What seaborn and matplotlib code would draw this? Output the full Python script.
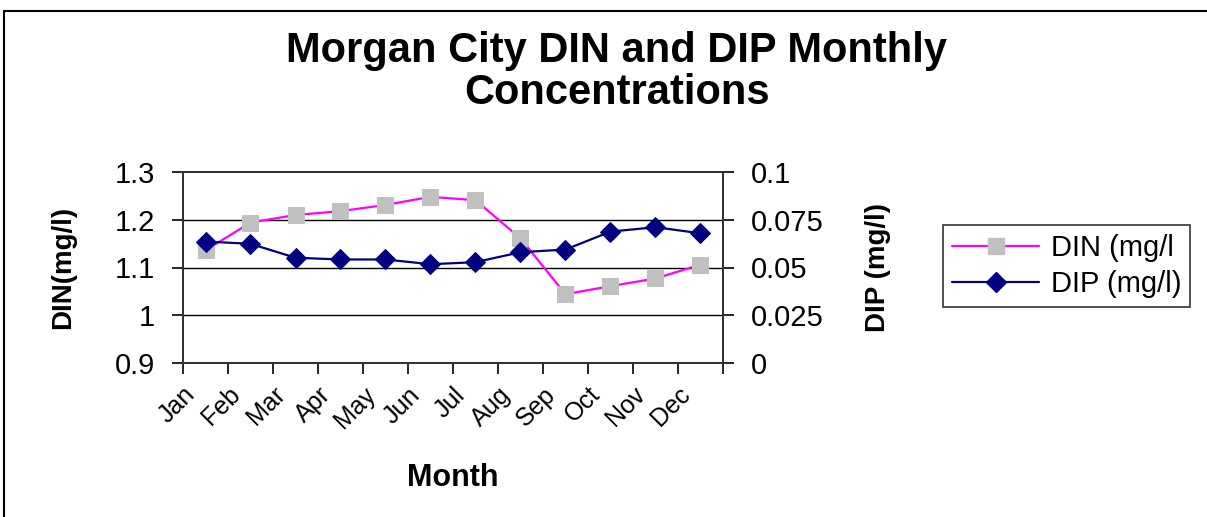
import matplotlib
matplotlib.use("Agg")
import matplotlib.pyplot as plt
import seaborn as sns
from matplotlib.lines import Line2D

# data
months = ['Jan', 'Feb', 'Mar', 'Apr', 'May', 'Jun',
          'Jul', 'Aug', 'Sep', 'Oct', 'Nov', 'Dec']
din = [1.136, 1.194, 1.210, 1.218, 1.231, 1.248,
       1.241, 1.161, 1.044, 1.061, 1.077, 1.106]
dip = [0.0636, 0.0624, 0.0551, 0.0542, 0.0542, 0.0517,
       0.0528, 0.0580, 0.0594, 0.0688, 0.0711, 0.0679]
din_ticks = [0.9, 1.0, 1.1, 1.2, 1.3]
din_ticklabels = ['0.9', '1', '1.1', '1.2', '1.3']
dip_ticks = [0, 0.025, 0.05, 0.075, 0.1]
dip_ticklabels = ['0', '0.025', '0.05', '0.075', '0.1']

sns.set_style('white')
plt.rcParams['font.family'] = ['Liberation Sans', 'DejaVu Sans']
plt.rcParams['text.color'] = 'black'
plt.rcParams['axes.labelcolor'] = 'black'
plt.rcParams['xtick.color'] = 'black'
plt.rcParams['ytick.color'] = 'black'

fig = plt.figure(figsize=(12.07, 5.17), dpi=100)
ax = fig.add_axes([183 / 1207, 1 - 363 / 517, 540 / 1207, 191 / 517])
ax2 = ax.twinx()

xpos = [i + 0.5 for i in range(len(months))]

# -----------------------------------
# DIN on left axis, DIP on right axis
# -----------------------------------
sns.lineplot(x=xpos, y=din, ax=ax, color='#ff00ff', lw=1.6,
             marker='s', markersize=11, markerfacecolor='#c0c0c0',
             markeredgecolor='#c0c0c0', zorder=3)
sns.lineplot(x=xpos, y=dip, ax=ax2, color='#000080', lw=1.6,
             marker='D', markersize=10, markerfacecolor='#000080',
             markeredgecolor='#000080', zorder=3)

ax.set_xlim(0, 12)
ax.set_ylim(0.9, 1.3)
ax2.set_ylim(0, 0.1)

ax.set_yticks(din_ticks)
ax.set_yticklabels(din_ticklabels, fontsize=21)
ax2.set_yticks(dip_ticks)
ax2.set_yticklabels(dip_ticklabels, fontsize=21)
ax.set_xticks(range(13))
ax.set_xticklabels(months + [''], fontsize=18, rotation=45,
                   ha='right', va='top', rotation_mode='anchor')

for a in (ax, ax2):
    for s in a.spines.values():
        s.set_color('#333333')
        s.set_linewidth(1.4)
ax.tick_params(axis='both', direction='out', length=8, width=1.2,
               color='black', left=True, bottom=True)
ax.tick_params(axis='y', pad=12)
ax.tick_params(axis='x', pad=6)
ax2.tick_params(axis='y', direction='out', length=8, width=1.2,
                color='black', right=True, pad=12)

ax.grid(False)
ax2.grid(False)
for v in din_ticks[1:-1]:
    ax.axhline(v, color='black', lw=1.0, zorder=1)

ax.set_xlabel('Month', fontsize=22, fontweight='bold', labelpad=22)
ax.set_ylabel('DIN(mg/l)', fontsize=20, fontweight='bold', labelpad=28)
ax2.set_ylabel('DIP (mg/l)', fontsize=20, fontweight='bold', labelpad=30)

fig.text(617 / 1207, 1 - 72 / 517,
         'Morgan City DIN and DIP Monthly\nConcentrations',
         ha='center', va='center', fontsize=30, fontweight='bold',
         linespacing=1.05)

handles = [
    Line2D([], [], color='#ff00ff', lw=1.6, marker='s', markersize=11,
           markerfacecolor='#c0c0c0', markeredgecolor='#c0c0c0'),
    Line2D([], [], color='#000080', lw=1.6, marker='D', markersize=10,
           markerfacecolor='#000080', markeredgecolor='#000080'),
]
leg = fig.legend(handles, ['DIN (mg/l', 'DIP (mg/l)'],
                 loc='upper left', bbox_to_anchor=(943 / 1207, 1 - 225 / 517),
                 borderaxespad=0, fontsize=21, frameon=True, fancybox=False,
                 handlelength=3.0, borderpad=0.3, labelspacing=0.3,
                 handletextpad=0.4)
leg.get_frame().set_edgecolor('black')
leg.get_frame().set_linewidth(1.2)

# outer chart border (top and left edges visible)
fig.add_artist(Line2D([4 / 1207, 1], [1 - 11 / 517, 1 - 11 / 517],
                      color='black', lw=1.5))
fig.add_artist(Line2D([4 / 1207, 4 / 1207], [0, 1 - 11 / 517],
                      color='black', lw=1.5))

fig.savefig('out.png', dpi=100)
